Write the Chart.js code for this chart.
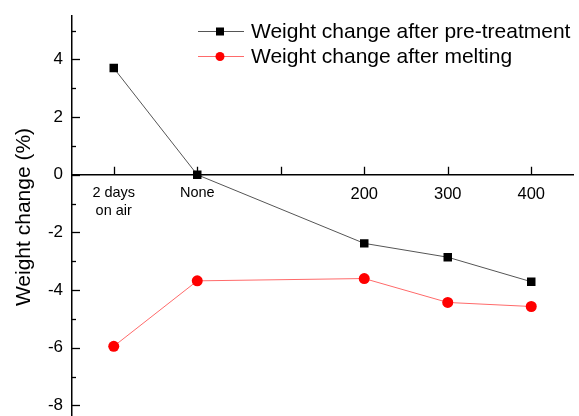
<!DOCTYPE html>
<html>
<head>
<meta charset="utf-8">
<script src="https://cdn.jsdelivr.net/npm/chart.js@4.4.0/dist/chart.umd.min.js"></script>
<style>
  html, body { margin: 0; padding: 0; background: #fff; overflow: hidden; }
  #wrap { position: relative; top: -3px; width: 579px; height: 442px; }
</style>
</head>
<body>
<div id="wrap"><canvas id="chart"></canvas></div>
<script>
// categories on the x axis (third slot has no label in the original)
const categories = [['2 days', 'on air'], 'None', '', '200', '300', '400'];
// series values (%)
const pretreatment = [3.70, 0.0, null, -2.38, -2.86, -3.71];
const melting = [-5.95, -3.68, null, -3.60, -4.43, -4.57];
const seriesNames = ['Weight change after pre-treatment', 'Weight change after melting'];
const yTickLabels = [-8, -6, -4, -2, 0, 2, 4];

const FONT = 'Liberation Sans, Arial, sans-serif';

// inward ticks, axis title and the legend are drawn by hand
const decorPlugin = {
    id: 'decor',
    afterDraw(chart) {
        const ctx = chart.ctx;
        const xs = chart.scales.x;
        const ys = chart.scales.y;
        const area = chart.chartArea;
        const x0 = area.left;
        const yZero = ys.getPixelForValue(0);
        ctx.save();
        ctx.strokeStyle = '#000';
        ctx.lineWidth = 1.3;

        // y ticks (major at even, minor at odd)
        for (let v = -8; v <= 5; v++) {
            const py = Math.round(ys.getPixelForValue(v)) + 0.5;
            const len = (v % 2 === 0) ? 8 : 4;
            ctx.beginPath();
            ctx.moveTo(x0, py);
            ctx.lineTo(x0 + len, py);
            ctx.stroke();
        }
        // x ticks, pointing up from the zero line
        categories.forEach((c, i) => {
            const px = Math.round(xs.getPixelForValue(i)) + 0.5;
            ctx.beginPath();
            ctx.moveTo(px, yZero);
            ctx.lineTo(px, yZero - 8);
            ctx.stroke();
        });

        // y title
        ctx.fillStyle = '#000';
        ctx.font = '21px ' + FONT;
        ctx.textAlign = 'center';
        ctx.textBaseline = 'middle';
        ctx.translate(24, 220);
        ctx.rotate(-Math.PI / 2);
        ctx.fillText('Weight change (%)', 0, 0);
        ctx.restore();

        // legend (offset by the 3px the canvas is shifted up)
        ctx.save();
        const rows = [34.5, 59.5];
        chart.data.datasets.forEach((ds, i) => {
            const ly = rows[i];
            ctx.strokeStyle = ds.borderColor;
            ctx.lineWidth = 1;
            ctx.beginPath();
            ctx.moveTo(198, ly);
            ctx.lineTo(244, ly);
            ctx.stroke();
            ctx.fillStyle = ds.pointBackgroundColor;
            if (ds.pointStyle === 'rect') {
                ctx.fillRect(216, ly - 4, 8, 8);
            } else {
                ctx.beginPath();
                ctx.arc(220, ly, 4.5, 0, Math.PI * 2);
                ctx.fill();
            }
            ctx.fillStyle = '#000';
            ctx.font = '21px ' + FONT;
            ctx.textAlign = 'left';
            ctx.textBaseline = 'middle';
            ctx.fillText(ds.label, 251, ly + 1);
        });
        ctx.restore();
    }
};

const ctx = document.getElementById('chart').getContext('2d');
new Chart(ctx, {
    type: 'line',
    data: {
        labels: categories,
        datasets: [{
            label: seriesNames[0],
            data: pretreatment,
            borderColor: '#555',
            borderWidth: 1,
            pointStyle: 'rect',
            pointRadius: 6,
            pointBackgroundColor: '#000',
            pointBorderColor: '#000',
            pointBorderWidth: 0,
            spanGaps: true,
            tension: 0
        }, {
            label: seriesNames[1],
            data: melting,
            borderColor: '#ff6a6a',
            borderWidth: 1,
            pointStyle: 'circle',
            pointRadius: 5.5,
            pointBackgroundColor: '#ff0000',
            pointBorderColor: '#ff0000',
            pointBorderWidth: 0,
            spanGaps: true,
            tension: 0
        }]
    },
    options: {
        responsive: true,
        maintainAspectRatio: false,
        animation: false,
        layout: { padding: { top: 9, right: 2, bottom: 0, left: 0 } },
        plugins: {
            legend: { display: false },
            tooltip: { enabled: false }
        },
        scales: {
            x: {
                type: 'category',
                position: { y: 0 },
                offset: true,
                grid: { display: false, drawTicks: false },
                border: { display: true, color: '#000', width: 1.5 },
                ticks: {
                    color: '#000',
                    font: c => ({ family: FONT, size: c.index >= 3 ? 16.5 : 14.5, lineHeight: 1.2 }),
                    padding: 10,
                    maxRotation: 0,
                    autoSkip: false
                }
            },
            y: {
                min: -8.5,
                max: 5.5,
                grid: { display: false, drawTicks: false },
                border: { display: true, color: '#000', width: 1.5 },
                afterFit(scale) { scale.width = 72; },
                afterBuildTicks(scale) {
                    scale.ticks = yTickLabels.map(v => ({ value: v }));
                },
                ticks: {
                    color: '#000',
                    font: { family: FONT, size: 17 },
                    padding: 9
                }
            }
        }
    },
    plugins: [decorPlugin]
});
</script>
</body>
</html>
